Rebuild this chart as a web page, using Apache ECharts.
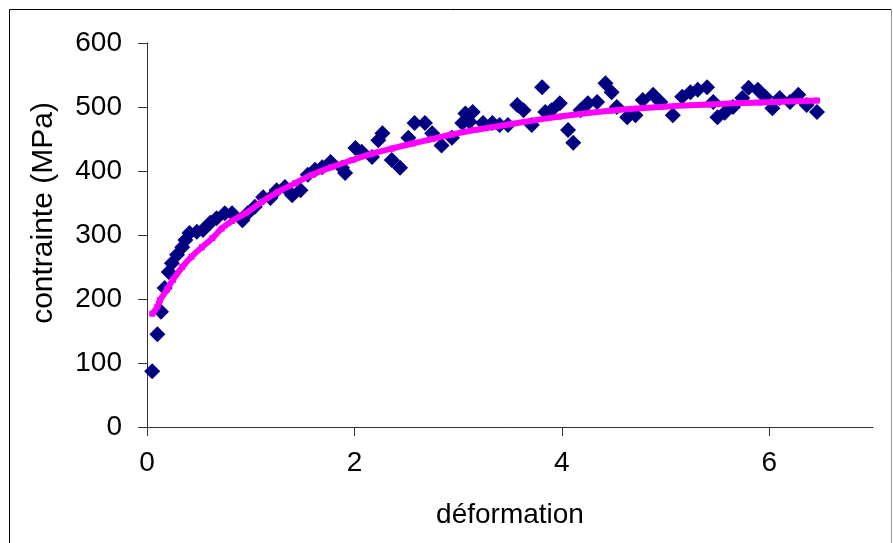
<!DOCTYPE html>
<html>
<head>
<meta charset="utf-8">
<script src="https://cdn.jsdelivr.net/npm/echarts@6/dist/echarts.min.js"></script>
<style>
  html, body { margin: 0; padding: 0; background: #fff; }
  #main { width: 893px; height: 543px; }
</style>
</head>
<body>
<div id="main"></div>
<script>
// points mesurés (déformation, contrainte)
var defX = [0.05, 0.10, 0.135, 0.17, 0.21, 0.24, 0.29, 0.34, 0.37, 0.41, 0.48, 0.54, 0.61, 0.67, 0.75, 0.82, 0.92, 0.97,
    1.04, 1.12, 1.19, 1.25, 1.33, 1.40, 1.48, 1.55, 1.62, 1.69, 1.77, 1.88, 1.91, 2.01, 2.07, 2.17, 2.23, 2.27, 2.36, 2.44,
    2.52, 2.58, 2.68, 2.75, 2.84, 2.94, 3.04, 3.07, 3.11, 3.14, 3.24, 3.33, 3.40, 3.48, 3.57, 3.63, 3.71, 3.81, 3.84, 3.90,
    3.98, 4.06, 4.11, 4.18, 4.25, 4.34, 4.42, 4.48, 4.53, 4.63, 4.71, 4.78, 4.88, 4.95, 5.07, 5.16, 5.24, 5.31, 5.40, 5.46,
    5.50, 5.57, 5.65, 5.74, 5.80, 5.89, 5.96, 6.03, 6.10, 6.20, 6.28, 6.36, 6.46]
var contrainte = [87, 145, 180, 217, 242, 256, 269, 281, 292, 303, 305, 308, 319, 326, 334, 334, 323, 334,
    344, 359, 358, 370, 375, 362, 370, 394, 402, 406, 414, 405, 397, 436, 430, 422, 448, 459, 417, 405,
    452, 475, 475, 459, 440, 452, 475, 490, 477, 492, 475, 475, 472, 472, 503, 495, 472, 531, 492, 495,
    506, 464, 444, 495, 506, 508, 537, 523, 500, 484, 487, 511, 519, 508, 487, 516, 523, 527, 531, 508,
    484, 491, 500, 514, 530, 527, 516, 498, 514, 508, 519, 503, 492]

// courbe de tendance
var trendX = [0.05, 0.10, 0.125, 0.19, 0.25, 0.34, 0.43, 0.53, 0.63, 0.72, 0.82, 0.95, 1.11, 1.26, 1.43, 1.59, 1.78,
    1.98, 2.17, 2.36, 2.56, 2.75, 2.94, 3.16, 3.50, 3.98, 4.46, 4.95, 5.43, 5.91, 6.46]
var trendY = [177, 188, 198, 214, 230, 250, 266, 281, 295, 310, 322, 334, 352, 367, 381, 394, 406,
    417, 427, 435, 443, 450, 457, 464, 473, 485, 494, 500, 504, 507, 510]

var xTicks = [0, 2, 4, 6]

var font = 'Liberation Sans, Arial, sans-serif'
var myChart = echarts.init(document.getElementById('main'))

var option = {
    backgroundColor: '#fff',
    animation: false,
    grid: {
        left: 147,
        right: 20,
        top: 43,
        bottom: 116
    },
    graphic: [
        {
            type: 'polyline',
            shape: { points: [[9.5, 560], [9.5, 9.5], [891.5, 9.5]] },
            style: { stroke: '#000', lineWidth: 1, fill: null }
        },
        {
            type: 'line',
            shape: { x1: 891.5, y1: 9.5, x2: 891.5, y2: 560 },
            style: { stroke: '#999', lineWidth: 1 }
        }
    ],
    xAxis: {
        type: 'value',
        min: 0,
        max: 7,
        name: 'déformation',
        nameLocation: 'middle',
        nameGap: 74,
        nameTextStyle: { fontFamily: font, fontSize: 28, color: '#000' },
        axisLine: { lineStyle: { color: '#333', width: 1 } },
        axisTick: { show: true, length: 9, customValues: xTicks, lineStyle: { color: '#333' } },
        axisLabel: { customValues: xTicks, margin: 22, fontFamily: font, fontSize: 28, color: '#000' },
        splitLine: { show: false }
    },
    yAxis: {
        type: 'value',
        min: 0,
        max: 600,
        interval: 100,
        name: 'contrainte (MPa)',
        nameLocation: 'middle',
        nameGap: 88,
        nameRotate: 90,
        nameTextStyle: { fontFamily: font, fontSize: 30, color: '#000', padding: [0, 0, 0, 44] },
        axisLine: { show: true, lineStyle: { color: '#333', width: 1 } },
        axisTick: { show: true, length: 9, lineStyle: { color: '#333' } },
        axisLabel: { margin: 25, fontFamily: font, fontSize: 28, color: '#000' },
        splitLine: { show: false }
    },
    series: [
        {
            name: 'mesures',
            type: 'scatter',
            symbol: 'diamond',
            symbolSize: 16,
            itemStyle: { color: '#000080', opacity: 1 },
            data: defX.map(function (x, i) { return [x, contrainte[i]] }),
            z: 2
        },
        {
            name: 'tendance',
            type: 'line',
            smooth: true,
            symbol: 'rect',
            symbolSize: 6,
            showSymbol: true,
            itemStyle: { color: '#ff00ff' },
            lineStyle: { color: '#ff00ff', width: 6 },
            data: trendX.map(function (x, i) { return [x, trendY[i]] }),
            z: 3
        }
    ]
}

myChart.setOption(option)
window.addEventListener('resize', function () {
    myChart.resize()
})
</script>
</body>
</html>
